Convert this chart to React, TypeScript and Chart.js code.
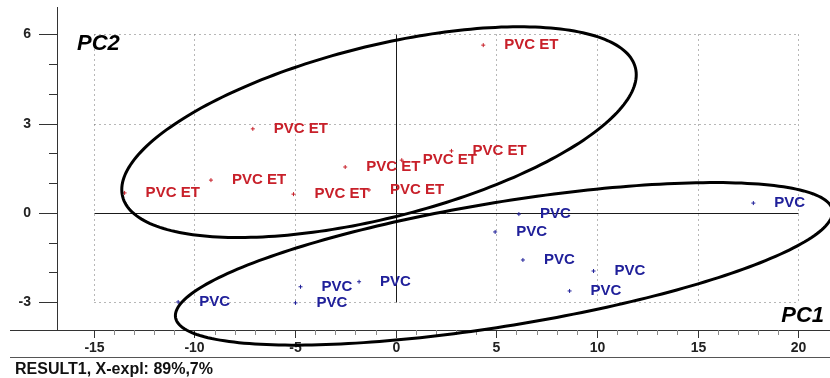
import { useEffect, useRef } from 'react';
import { Chart, registerables } from 'chart.js';

Chart.register(...registerables);

// ---- data ----
const redX = [-13.47, -9.18, -7.1, -5.08, -2.51, -1.33, 0.3, 2.77, 4.35];
const redY = [0.67, 1.1, 2.82, 0.63, 1.54, 0.77, 1.77, 2.08, 5.63];
const blueX = [-10.81, -4.73, -4.98, -1.82, 4.94, 6.12, 6.32, 9.83, 8.64, 17.77];
const blueY = [-2.99, -2.48, -3.02, -2.31, -0.64, -0.04, -1.58, -1.95, -2.62, 0.33];
const redLabel = 'PVC ET';
const blueLabel = 'PVC';
const xTicks = [-15, -10, -5, 0, 5, 10, 15, 20];
const yTicks = [-3, 0, 3, 6];
const xRange = [-16.83, 21.33];
const yRange = [-3.93, 6.91];
// ellipse: centre x, centre y, conjugate semi-axis 1 (dx, dy), semi-axis 2 (dx, dy) in data units
const ellipseRed = [-0.83, 2.71, 12.74, 2.16, 1.03, -2.8];
const ellipseBlue = [5.38, -1.71, 16.32, 1.8, 0.49, -2.05];
const xAxisName = 'PC1';
const yAxisName = 'PC2';
const footer = 'RESULT1, X-expl: 89%,7%';

const RED = '#c8202a';
const BLUE = '#20209a';

const decor = {
  id: 'decor',
  beforeDatasetsDraw(chart: any) {
    const ctx = chart.ctx as CanvasRenderingContext2D;
    const xs = chart.scales.x;
    const ys = chart.scales.y;
    const a = chart.chartArea;
    const W = chart.width;
    const px = (v: number) => Math.round(xs.getPixelForValue(v)) + 0.5;
    const py = (v: number) => Math.round(ys.getPixelForValue(v)) + 0.5;
    const gx0 = px(xTicks[0]);
    const gx1 = px(xTicks[xTicks.length - 1]);
    const gyTop = py(yTicks[yTicks.length - 1]);
    const gyBot = py(yTicks[0]);
    ctx.save();
    ctx.lineWidth = 1;
    // dotted grid
    ctx.setLineDash([1, 4]);
    ctx.strokeStyle = '#6e6e6e';
    for (const v of xTicks) {
      if (v === 0) continue;
      ctx.beginPath();
      ctx.moveTo(px(v), gyTop);
      ctx.lineTo(px(v), gyBot);
      ctx.stroke();
    }
    for (const v of yTicks) {
      if (v === 0) continue;
      ctx.beginPath();
      ctx.moveTo(gx0, py(v));
      ctx.lineTo(gx1, py(v));
      ctx.stroke();
    }
    ctx.setLineDash([]);
    // zero lines
    ctx.strokeStyle = '#1a1a1a';
    ctx.beginPath();
    ctx.moveTo(gx0, py(0));
    ctx.lineTo(gx1, py(0));
    ctx.moveTo(px(0), gyTop);
    ctx.lineTo(px(0), gyBot);
    ctx.stroke();
    // axes frame
    ctx.strokeStyle = '#333';
    ctx.beginPath();
    ctx.moveTo(a.left + 0.5, a.top);
    ctx.lineTo(a.left + 0.5, a.bottom);
    ctx.moveTo(10, a.bottom + 0.5);
    ctx.lineTo(W, a.bottom + 0.5);
    ctx.stroke();
    ctx.strokeStyle = '#555';
    ctx.beginPath();
    ctx.moveTo(10, a.bottom + 27.5);
    ctx.lineTo(W, a.bottom + 27.5);
    ctx.stroke();
    // y ticks
    ctx.strokeStyle = '#333';
    for (let v = yTicks[0]; v <= yTicks[yTicks.length - 1]; v++) {
      const len = yTicks.includes(v) ? 18 : 8;
      ctx.beginPath();
      ctx.moveTo(a.left - len, py(v));
      ctx.lineTo(a.left, py(v));
      ctx.stroke();
    }
    // x ticks
    for (let v = xTicks[0]; v <= xTicks[xTicks.length - 1]; v++) {
      const major = xTicks.includes(v);
      ctx.strokeStyle = major ? '#333' : '#888';
      ctx.beginPath();
      ctx.moveTo(px(v), a.bottom);
      ctx.lineTo(px(v), a.bottom + (major ? 8 : 5));
      ctx.stroke();
    }
    // tick labels
    ctx.fillStyle = '#222';
    ctx.font = 'bold 14px "Liberation Sans", Arial, sans-serif';
    ctx.textBaseline = 'middle';
    ctx.textAlign = 'right';
    for (const v of yTicks) ctx.fillText(String(v), a.left - 26, py(v));
    ctx.textAlign = 'center';
    for (const v of xTicks) ctx.fillText(String(v), px(v), a.bottom + 18);
    ctx.restore();
  },
  afterDatasetsDraw(chart: any) {
    const ctx = chart.ctx as CanvasRenderingContext2D;
    const xs = chart.scales.x;
    const ys = chart.scales.y;
    const a = chart.chartArea;
    const px = (v: number) => xs.getPixelForValue(v);
    const py = (v: number) => ys.getPixelForValue(v);
    ctx.save();
    // point labels
    ctx.font = 'bold 15px "Liberation Sans", Arial, sans-serif';
    ctx.textAlign = 'left';
    ctx.textBaseline = 'middle';
    ctx.fillStyle = RED;
    redX.forEach((x, i) => ctx.fillText(redLabel, px(x) + 21, py(redY[i])));
    ctx.fillStyle = BLUE;
    blueX.forEach((x, i) => ctx.fillText(blueLabel, px(x) + 21, py(blueY[i])));
    // ellipses
    ctx.strokeStyle = '#000';
    ctx.lineWidth = 3;
    for (const e of [ellipseRed, ellipseBlue]) {
      ctx.beginPath();
      for (let k = 0; k <= 240; k++) {
        const t = (k / 240) * Math.PI * 2;
        const x = e[0] + Math.cos(t) * e[2] + Math.sin(t) * e[4];
        const y = e[1] + Math.cos(t) * e[3] + Math.sin(t) * e[5];
        if (k === 0) ctx.moveTo(px(x), py(y));
        else ctx.lineTo(px(x), py(y));
      }
      ctx.closePath();
      ctx.stroke();
    }
    // axis names
    ctx.fillStyle = '#000';
    ctx.font = 'italic bold 22px "Liberation Sans", Arial, sans-serif';
    ctx.textBaseline = 'alphabetic';
    ctx.fillText(yAxisName, a.left + 20, a.top + 43);
    ctx.textAlign = 'right';
    ctx.fillText(xAxisName, chart.width - 6, a.bottom - 8);
    // footer
    ctx.textAlign = 'left';
    ctx.fillStyle = '#111';
    ctx.font = 'bold 16px "Liberation Sans", Arial, sans-serif';
    ctx.fillText(footer, 15, chart.height - 4);
    ctx.restore();
  },
};

export default function App() {
  const ref = useRef<HTMLCanvasElement | null>(null);
  useEffect(() => {
    document.body.style.margin = '0';
    const canvas = ref.current;
    if (!canvas) return;
    const chart = new Chart(canvas, {
      type: 'scatter',
      data: {
        datasets: [
          {
            label: redLabel,
            data: redX.map((x, i) => ({ x, y: redY[i] })),
            pointStyle: 'cross',
            pointRadius: 2,
            borderColor: RED,
            backgroundColor: RED,
            borderWidth: 1,
          },
          {
            label: blueLabel,
            data: blueX.map((x, i) => ({ x, y: blueY[i] })),
            pointStyle: 'cross',
            pointRadius: 2,
            borderColor: BLUE,
            backgroundColor: BLUE,
            borderWidth: 1,
          },
        ],
      },
      options: {
        responsive: false,
        animation: false,
        devicePixelRatio: 1,
        layout: { padding: { left: 57, right: 0, top: 7, bottom: 48 } },
        scales: {
          x: { type: 'linear', min: xRange[0], max: xRange[1], display: false },
          y: { type: 'linear', min: yRange[0], max: yRange[1], display: false },
        },
        plugins: { legend: { display: false }, tooltip: { enabled: false } },
      },
      plugins: [decor],
    } as any);
    return () => chart.destroy();
  }, []);
  return (
    <div style={{ width: 830, height: 378, background: '#fff' }}>
      <canvas ref={ref} width={830} height={378} style={{ display: 'block' }} />
    </div>
  );
}
